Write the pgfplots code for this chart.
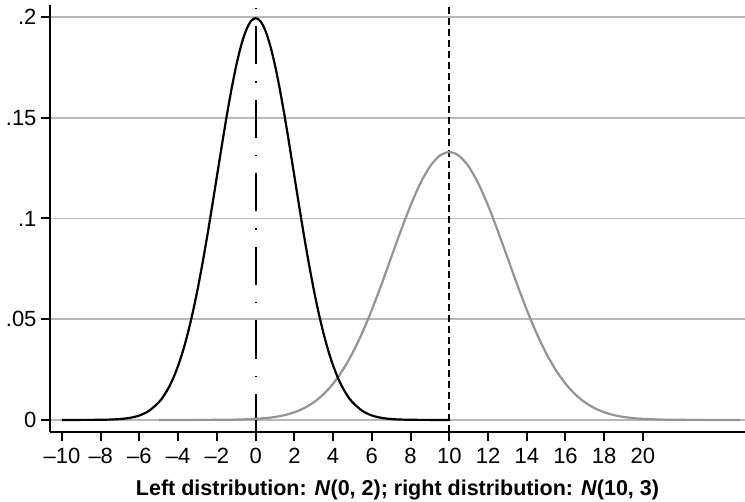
\documentclass[border=0pt]{standalone}
\usepackage{fontspec}
\setmainfont{Liberation Sans}
\usepackage{pgfplots}
\pgfplotsset{compat=1.18}
\pgfplotstableread{
x y
-10 0.0000007
-9.5 0.0000025
-9 0.0000080
-8.5 0.0000239
-8 0.0000669
-7.5 0.000176
-7 0.000436
-6.5 0.001015
-6 0.002216
-5.5 0.00455
-5 0.00876
-4.75 0.01189
-4.5 0.01587
-4.25 0.02086
-4 0.02700
-3.75 0.03439
-3.5 0.04314
-3.25 0.05327
-3 0.06476
-2.75 0.07751
-2.5 0.09132
-2.25 0.10594
-2 0.12099
-1.75 0.13603
-1.5 0.15057
-1.25 0.16408
-1 0.17603
-0.75 0.18593
-0.5 0.19333
-0.25 0.19792
0 0.19947
0.25 0.19792
0.5 0.19333
0.75 0.18593
1 0.17603
1.25 0.16408
1.5 0.15057
1.75 0.13603
2 0.12099
2.25 0.10594
2.5 0.09132
2.75 0.07751
3 0.06476
3.25 0.05327
3.5 0.04314
3.75 0.03439
4 0.02700
4.25 0.02086
4.5 0.01587
4.75 0.01189
5 0.00876
5.5 0.00455
6 0.002216
6.5 0.001015
7 0.000436
7.5 0.000176
8 0.0000669
8.5 0.0000239
9 0.0000080
9.5 0.0000025
10 0.0000007
}\leftdist
\pgfplotstableread{
x y
-5 0.0000005
-4 0.0000025
-3 0.0000111
-2 0.0000446
-1 0.000160
0 0.000514
0.5 0.000884
1 0.001477
1.5 0.00240
2 0.00380
2.5 0.00584
3 0.00874
3.5 0.01272
4 0.01800
4.5 0.02477
5 0.03316
5.5 0.04317
6 0.05467
6.5 0.06733
7 0.08066
7.5 0.09397
8 0.10648
8.5 0.11735
9 0.12579
9.5 0.13115
10 0.13298
10.5 0.13115
11 0.12579
11.5 0.11735
12 0.10648
12.5 0.09397
13 0.08066
13.5 0.06733
14 0.05467
14.5 0.04317
15 0.03316
15.5 0.02477
16 0.01800
16.5 0.01272
17 0.00874
17.5 0.00584
18 0.00380
18.5 0.00240
19 0.001477
19.5 0.000884
20 0.000514
21 0.000160
22 0.0000446
23 0.0000111
24 0.0000025
25 0.0000005
}\rightdist
\begin{document}
\begin{tikzpicture}
\begin{axis}[
  at={(0,0)}, anchor=south west,
  scale only axis, width=695bp, height=427bp,
  xmin=-10.62, xmax=25.27, ymin=-0.006, ymax=0.206,
  axis x line*=bottom, axis y line*=left,
  axis line style={line width=2bp,-},
  xtick={-10,-8,...,20},
  xticklabels={–10,–8,–6,–4,–2,0,2,4,6,8,10,12,14,16,18,20},
  ytick={0,0.05,0.1,0.15,0.2},
  yticklabels={0,.05,.1,.15,.2},
  tick align=outside, major tick length=9bp,
  tick style={line width=2bp, black},
  ymajorgrids, grid style={black!28, line width=1.5bp},
  tick label style={font=\fontsize{22bp}{25bp}\selectfont},
  xticklabel style={anchor=base, yshift=-22bp},
  yticklabel style={xshift=-1bp},
  label style={font=\fontsize{21.5bp}{25bp}\selectfont\bfseries},
  xlabel style={at={(axis description cs:0.5,0)}, anchor=base, yshift=-63bp},
  xlabel={Left distribution: \textit{N}(0, 2); right distribution: \textit{N}(10, 3)},
  clip=false,
]
\addplot[black, line width=1.7bp, dash pattern=on 38bp off 17bp on 1.5bp off 17bp] coordinates {(0,-0.006) (0,0.206)};
\addplot[black, line width=1.7bp, dash pattern=on 7bp off 4bp] coordinates {(10,-0.006) (10,0.206)};
\addplot[black!42, line width=2.2bp, smooth, line join=round] table[x=x,y=y] {\rightdist};
\addplot[black, line width=2.2bp, smooth, line join=round] table[x=x,y=y] {\leftdist};
\end{axis}
\pgfresetboundingbox
\path (-50bp,-70bp) rectangle (695bp,432bp);
\end{tikzpicture}
\end{document}
